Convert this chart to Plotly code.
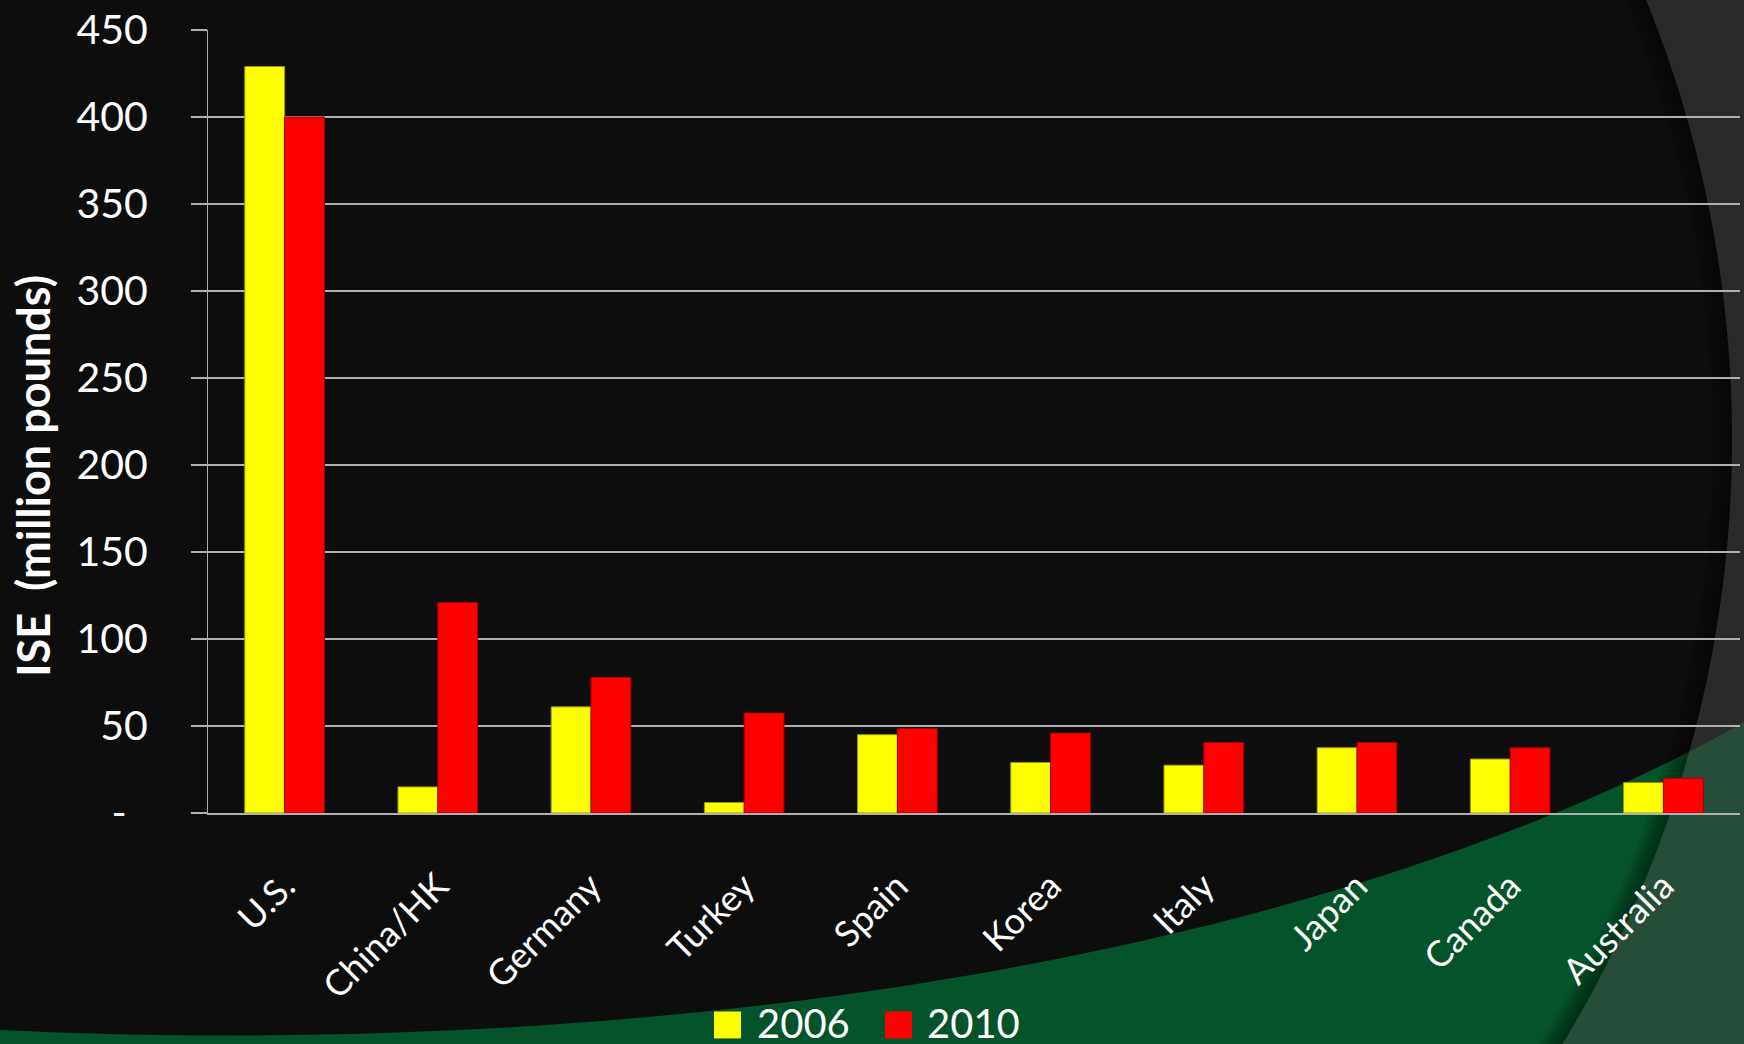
import numpy as np
import plotly.graph_objects as go

# ---- data ----
countries = ["U.S.", "China/HK", "Germany", "Turkey", "Spain",
             "Korea", "Italy", "Japan", "Canada", "Australia"]
ise_2006 = [429, 15, 61, 6, 45, 29, 27.5, 37.5, 31, 17.5]
ise_2010 = [400, 121, 78, 57.5, 48.5, 46, 40.5, 40.5, 37.5, 20]
series_names = ["2006", "2010"]
series_colors = ["#ffff00", "#ff0000"]
series_edges = ["#9a9a00", "#a00000"]
y_ticks = [0, 50, 100, 150, 200, 250, 300, 350, 400, 450]
y_tick_text = ["-\u00a0\u00a0"] + [str(v) for v in y_ticks[1:]]
y_title = "ISE\u00a0 (million pounds)"

# ---- page geometry ----
W, H = 1744, 1044
ML, MR, MT, MB = 208, 4, 28, 231
PW, PH = W - ML - MR, H - MT - MB
FONT = "Lato"
GRID = "#b0b0b0"


def fx(x):
    """page pixel x -> paper fraction"""
    return (x - ML) / PW


def fy(y):
    """page pixel y (from top) -> paper fraction"""
    return (H - MB - y) / PH


def path_from(points):
    return "M " + " L ".join(f"{fx(x):.5f},{fy(y):.5f}" for x, y in points) + " Z"


# ---- decorative backdrop ----
shapes = []

# green swoosh along the bottom (cubic curve rising to the right)
p0, p1, p2, p3 = (-10, 1030), (700, 1065), (1350, 945), (1744, 722)
green_path = (
    f"M {fx(-10):.5f},{fy(1070):.5f} L {fx(p0[0]):.5f},{fy(p0[1]):.5f} "
    f"C {fx(p1[0]):.5f},{fy(p1[1]):.5f} {fx(p2[0]):.5f},{fy(p2[1]):.5f} "
    f"{fx(p3[0]):.5f},{fy(p3[1]):.5f} "
    f"L {fx(1760):.5f},{fy(715):.5f} L {fx(1760):.5f},{fy(1070):.5f} Z"
)
shapes.append(dict(type="path", xref="paper", yref="paper", path=green_path,
                   fillcolor="#05532a", line=dict(width=0), layer="below"))

# large circle whose right-hand outside is a translucent grey band
cx, cy, rad = 562, 438, 1170
ys = np.linspace(-20, 1070, 160)


def arc_points(r):
    return [(cx + np.sqrt(r ** 2 - (y - cy) ** 2), y) for y in ys]


# soft shadow just inside the circle edge
for w in (4, 8, 12, 16, 20):
    inner = arc_points(rad - w)
    outer = arc_points(rad)[::-1]
    shapes.append(dict(type="path", xref="paper", yref="paper",
                       path=path_from(inner + outer),
                       fillcolor="rgba(0,0,0,0.09)", line=dict(width=0), layer="below"))

grey_pts = [(1770, -20)] + arc_points(rad) + [(1770, 1070)]
shapes.append(dict(type="path", xref="paper", yref="paper", path=path_from(grey_pts),
                   fillcolor="rgba(71,71,71,0.5)", line=dict(width=0), layer="below"))

# ---- bars ----
fig = go.Figure()
for name, vals, col, edge in zip(series_names, [ise_2006, ise_2010], series_colors, series_edges):
    fig.add_trace(go.Bar(
        x=countries, y=vals, name=name,
        marker=dict(color=col, line=dict(color=edge, width=1)),
        showlegend=False,
    ))

# ---- legend (key squares + labels) ----
annotations = []
legend_items = [(714, 755), (885, 925)]
for (kx, tx), name, col in zip(legend_items, series_names, series_colors):
    shapes.append(dict(type="rect", xref="paper", yref="paper",
                       x0=fx(kx), x1=fx(kx + 27), y0=fy(1039), y1=fy(1012),
                       fillcolor=col, line=dict(width=0), layer="above"))
    annotations.append(dict(xref="paper", yref="paper", x=fx(tx), y=fy(1024),
                            xanchor="left", yanchor="middle", showarrow=False,
                            text=name, font=dict(family=FONT, size=40, color="white")))

# y-axis title
annotations.append(dict(xref="paper", yref="paper", x=fx(33), y=fy(475),
                        xanchor="center", yanchor="middle", showarrow=False,
                        textangle=-90, text=f"<b>{y_title}</b>",
                        font=dict(family=FONT, size=45, color="white")))

fig.update_layout(
    width=W, height=H, autosize=False,
    margin=dict(l=ML, r=MR, t=MT, b=MB, pad=0),
    paper_bgcolor="#0d0d0d",
    plot_bgcolor="rgba(0,0,0,0)",
    barmode="group", bargap=0.48, bargroupgap=0,
    font=dict(family=FONT, color="white"),
    shapes=shapes,
    annotations=annotations,
    showlegend=False,
)

fig.update_xaxes(
    type="category",
    showgrid=False, zeroline=False,
    showline=True, linecolor=GRID, linewidth=1.5,
    ticks="", tickangle=-45,
    tickfont=dict(family=FONT, size=36, color="white"),
    ticklabelstandoff=36,
)

fig.update_yaxes(
    range=[0, 450],
    tickvals=y_ticks, ticktext=y_tick_text,
    showgrid=True, gridcolor=GRID, gridwidth=1.5,
    zeroline=False,
    showline=True, linecolor=GRID, linewidth=1,
    ticks="outside", ticklen=16, tickcolor=GRID, tickwidth=1.5,
    tickfont=dict(family=FONT, size=41, color="white"),
    ticklabelstandoff=35,
)

fig.write_html("out.html")
